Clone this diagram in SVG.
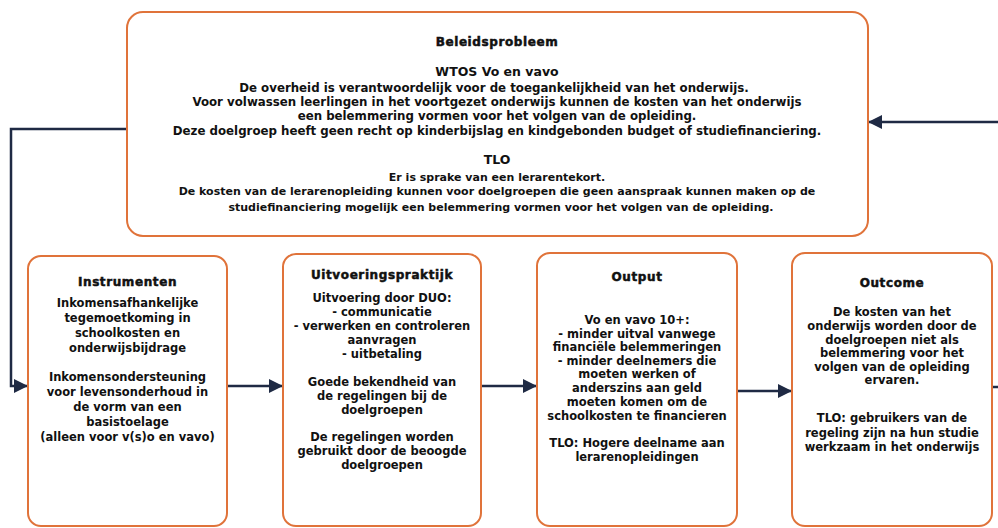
<svg xmlns="http://www.w3.org/2000/svg" width="998" height="528" viewBox="0 0 998 528">
<defs>
<style>
.box{fill:#ffffff;stroke:#e0733a;stroke-width:2}
.t{font-family:"DejaVu Sans","Liberation Sans",sans-serif;font-weight:bold;font-size:11.5px;fill:#111;text-anchor:middle}
.w{font-size:11.8px}
.l{font-size:11px}
.s{font-family:"DejaVu Sans","Liberation Sans",sans-serif;font-weight:bold;font-size:12.5px;fill:#111;text-anchor:middle}
.h{font-family:"DejaVu Sans","Liberation Sans",sans-serif;font-weight:bold;font-size:12px;letter-spacing:0.6px;fill:#111;text-anchor:middle;stroke:#111;stroke-width:0.5}
.c{fill:none;stroke:#1f2a44;stroke-width:2.5}
</style>
<marker id="ah" markerUnits="userSpaceOnUse" markerWidth="14" markerHeight="14" refX="13" refY="7" orient="auto">
<path d="M0,0 L14,7 L0,14 Z" fill="#1f2a44"/>
</marker>
</defs>
<rect width="998" height="528" fill="#ffffff"/>
<g id="connectors">
<path class="c" d="M127,129 H11 V386 H27" marker-end="url(#ah)"/>
<path class="c" d="M227,386 H282" marker-end="url(#ah)"/>
<path class="c" d="M481,386 H536" marker-end="url(#ah)"/>
<path class="c" d="M737,391 H791" marker-end="url(#ah)"/>
<path class="c" d="M992,387 H998"/>
<path class="c" d="M998,122 H869" marker-end="url(#ah)"/>
</g>
<g id="beleidsprobleem">
<rect class="box" x="127" y="12" width="741" height="224" rx="16"/>
<text class="h" x="497" y="46">Beleidsprobleem</text>
<text class="s" x="497" y="76">WTOS Vo en vavo</text>
<text class="t w" x="494" y="92">De overheid is verantwoordelijk voor de toegankelijkheid van het onderwijs.</text>
<text class="t w" x="497" y="106">Voor volwassen leerlingen in het voortgezet onderwijs kunnen de kosten van het onderwijs</text>
<text class="t w" x="497" y="120">een belemmering vormen voor het volgen van de opleiding.</text>
<text class="t w" x="497" y="135">Deze doelgroep heeft geen recht op kinderbijslag en kindgebonden budget of studiefinanciering.</text>
<text class="s" x="497" y="164">TLO</text>
<text class="t l" x="497" y="181">Er is sprake van een lerarentekort.</text>
<text class="t l" x="497" y="195">De kosten van de lerarenopleiding kunnen voor doelgroepen die geen aanspraak kunnen maken op de</text>
<text class="t l" x="501" y="211">studiefinanciering mogelijk een belemmering vormen voor het volgen van de opleiding.</text>
</g>
<g id="instrumenten">
<rect class="box" x="28" y="256" width="199" height="270" rx="13"/>
<text class="h" x="127.5" y="286">Instrumenten</text>
<text class="t" x="127.5" y="307">Inkomensafhankelijke</text>
<text class="t" x="127.5" y="322">tegemoetkoming in</text>
<text class="t" x="127.5" y="337">schoolkosten en</text>
<text class="t" x="127.5" y="352">onderwijsbijdrage</text>
<text class="t" x="127.5" y="381">Inkomensondersteuning</text>
<text class="t" x="127.5" y="396">voor levensonderhoud in</text>
<text class="t" x="127.5" y="411">de vorm van een</text>
<text class="t" x="127.5" y="426">basistoelage</text>
<text class="t" x="127.5" y="441">(alleen voor v(s)o en vavo)</text>
</g>
<g id="uitvoeringspraktijk">
<rect class="box" x="283" y="254" width="198" height="272" rx="13"/>
<text class="h" x="382" y="279">Uitvoeringspraktijk</text>
<text class="t" x="382" y="302">Uitvoering door DUO:</text>
<text class="t" x="382" y="316">- communicatie</text>
<text class="t" x="382" y="330">- verwerken en controleren</text>
<text class="t" x="382" y="344">aanvragen</text>
<text class="t" x="382" y="358">- uitbetaling</text>
<text class="t" x="382" y="386">Goede bekendheid van</text>
<text class="t" x="382" y="400">de regelingen bij de</text>
<text class="t" x="382" y="414">doelgroepen</text>
<text class="t" x="382" y="441">De regelingen worden</text>
<text class="t" x="382" y="455">gebruikt door de beoogde</text>
<text class="t" x="382" y="469">doelgroepen</text>
</g>
<g id="output">
<rect class="box" x="537" y="253" width="200" height="273" rx="13"/>
<text class="h" x="637" y="281">Output</text>
<text class="t" x="637" y="324">Vo en vavo 10+:</text>
<text class="t" x="637" y="338">- minder uitval vanwege</text>
<text class="t" x="637" y="351">financiële belemmeringen</text>
<text class="t" x="637" y="365">- minder deelnemers die</text>
<text class="t" x="637" y="378">moeten werken of</text>
<text class="t" x="637" y="392">anderszins aan geld</text>
<text class="t" x="637" y="406">moeten komen om de</text>
<text class="t" x="637" y="420">schoolkosten te financieren</text>
<text class="t" x="637" y="447">TLO: Hogere deelname aan</text>
<text class="t" x="637" y="461">lerarenopleidingen</text>
</g>
<g id="outcome">
<rect class="box" x="792" y="253" width="200" height="273" rx="13"/>
<text class="h" x="892" y="287">Outcome</text>
<text class="t" x="892" y="316">De kosten van het</text>
<text class="t" x="892" y="330">onderwijs worden door de</text>
<text class="t" x="892" y="344">doelgroepen niet als</text>
<text class="t" x="892" y="357">belemmering voor het</text>
<text class="t" x="892" y="371">volgen van de opleiding</text>
<text class="t" x="892" y="384">ervaren.</text>
<text class="t" x="892" y="422">TLO: gebruikers van de</text>
<text class="t" x="892" y="437">regeling zijn na hun studie</text>
<text class="t" x="892" y="451">werkzaam in het onderwijs</text>
</g>
</svg>
